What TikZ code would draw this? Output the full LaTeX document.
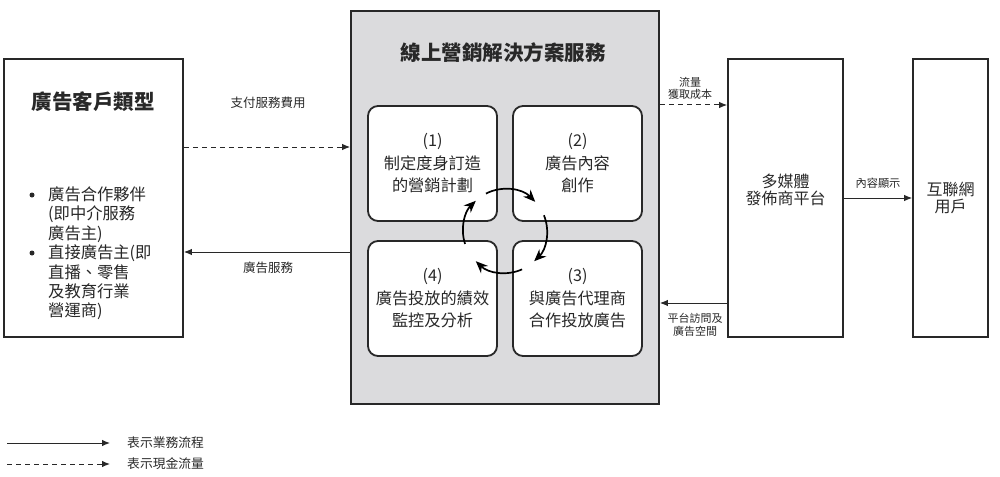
\documentclass[tikz,border=0pt]{standalone}
\usepackage{fontspec}
\setmainfont{Noto Sans CJK TC}
\usetikzlibrary{arrows.meta,calc}
\definecolor{svcgray}{RGB}{219,219,221}
\definecolor{ink}{RGB}{40,40,40}
\begin{document}
\begin{tikzpicture}[x=1pt,y=-1pt,
  box/.style={draw=ink,line width=1.8pt,fill=white,inner sep=0pt},
  rbox/.style={draw=ink,line width=1.8pt,fill=white,rounded corners=10pt,inner sep=0pt,
    minimum width=129pt,minimum height=115pt,align=center,text=ink,
    font=\fontsize{16.2}{22.5}\selectfont},
  lbl/.style={text=ink,align=center,inner sep=0pt},
  bul/.style={circle,fill=ink,inner sep=0pt,minimum size=5pt},
  flow/.style={draw=ink,line width=1pt,-{Latex[length=8pt,width=6.5pt]}},
  cash/.style={flow,dash pattern=on 5pt off 4pt},
  cyc/.style={draw=black,line width=1.7pt,-{Stealth[length=12pt,width=10pt]}}]
\useasboundingbox (0,0) rectangle (1000,476);

% left box
\node[box,minimum width=179pt,minimum height=278pt] (cust) at (93.5,198) {};
\node[lbl,font=\bfseries\fontsize{20.5}{24}\selectfont] (custt) at (93,102) {廣告客戶類型};
\node[lbl,align=left,anchor=north west,font=\fontsize{16.3}{19.4}\selectfont] (custl) at (48,186.5)
  {廣告合作夥伴\\(即中介服務\\廣告主)\\直接廣告主(即\\直播、零售\\及教育行業\\營運商)};
\node[bul] (b1) at (32,195) {};
\node[bul] (b2) at (32,253) {};

% service box
\node[draw=ink,line width=1.8pt,fill=svcgray,minimum width=308pt,minimum height=393pt,inner sep=0pt] (svc) at (505,207.5) {};
\node[lbl,font=\bfseries\fontsize{20.5}{24}\selectfont] (svct) at (503,53) {線上營銷解決方案服務};
\node[rbox] (s1) at (432.5,163.5) {(1)\\制定度身訂造\\的營銷計劃};
\node[rbox] (s2) at (577.5,163.5) {(2)\\廣告內容\\創作};
\node[rbox] (s3) at (577.5,298.5) {(3)\\與廣告代理商\\合作投放廣告};
\node[rbox] (s4) at (432.5,298.5) {(4)\\廣告投放的績效\\監控及分析};

% cycle arrows
\coordinate (cc) at (505,231);
\draw[cyc] ($(cc)+(-117:42)$) arc[start angle=-117,end angle=-44,radius=42];
\draw[cyc] ($(cc)+(-22:42)$) arc[start angle=-22,end angle=46,radius=42];
\draw[cyc] ($(cc)+(66:42)$) arc[start angle=66,end angle=134,radius=42];
\draw[cyc] ($(cc)+(162:42)$) arc[start angle=162,end angle=226,radius=42];

% media box
\node[box,minimum width=115pt,minimum height=278pt] (media) at (785.5,198) {};
\node[lbl,font=\fontsize{16}{17}\selectfont] (mediat) at (785.5,189.5) {多媒體\\發佈商平台};

% users box
\node[box,minimum width=75pt,minimum height=278pt,align=center,text=ink,
  font=\fontsize{16}{17}\selectfont] (users) at (950.5,198) {互聯網\\用戶};

% connectors
\draw[cash] (cust.east |- 0,147) -- (svc.west |- 0,147);
\node[lbl,font=\fontsize{12.5}{14}\selectfont] (l1) at (268,103) {支付服務費用};
\draw[flow] (svc.west |- 0,252) -- (cust.east |- 0,252);
\node[lbl,font=\fontsize{12.5}{14}\selectfont] (l2) at (268,268) {廣告服務};

\draw[cash] (svc.east |- 0,105) -- (media.west |- 0,105);
\node[lbl,font=\fontsize{11}{12}\selectfont] (l3) at (690,88) {流量\\獲取成本};
\draw[flow] (media.west |- 0,303) -- (svc.east |- 0,303);
\node[lbl,font=\fontsize{11}{13}\selectfont] (l4) at (695,324.5) {平台訪問及\\廣告空間};

\draw[flow] (media.east |- 0,198) -- (users.west |- 0,198);
\node[lbl,font=\fontsize{11.2}{13}\selectfont] (l5) at (878,183) {內容顯示};

% legend
\coordinate (lg1a) at (7,443);
\coordinate (lg1b) at (110,443);
\coordinate (lg2a) at (7,464);
\coordinate (lg2b) at (110,464);
\draw[flow] (lg1a) -- (lg1b);
\draw[cash] (lg2a) -- (lg2b);
\node[lbl,anchor=west,font=\fontsize{12.8}{14}\selectfont] (lt1) at (127,443) {表示業務流程};
\node[lbl,anchor=west,font=\fontsize{12.8}{14}\selectfont] (lt2) at (127,464) {表示現金流量};
\end{tikzpicture}
\end{document}
